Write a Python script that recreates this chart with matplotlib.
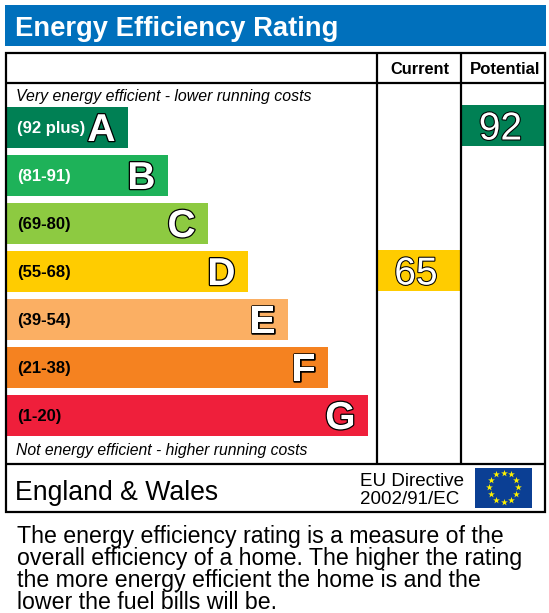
import matplotlib
matplotlib.use("Agg")
import matplotlib.pyplot as plt
import matplotlib.patheffects as pe
from matplotlib.patches import Rectangle
import numpy as np

bands = ["A", "B", "C", "D", "E", "F", "G"]
ranges = ["(92 plus)", "(81-91)", "(69-80)", "(55-68)", "(39-54)", "(21-38)", "(1-20)"]
band_ends = [128, 168, 208, 248, 288, 328, 368]
band_colors = ["#008054", "#1EB259", "#8DCA41", "#FFCC00", "#FBAF63", "#F58220", "#EF1F3B"]
current = 65
potential = 92
current_color = "#FFCC00"
potential_color = "#008054"
note = ["The energy efficiency rating is a measure of the",
        "overall efficiency of a home. The higher the rating",
        "the more energy efficient the home is and the",
        "lower the fuel bills will be."]

plt.rcParams["font.family"] = ["Liberation Sans", "DejaVu Sans"]

fig = plt.figure(figsize=(5.49, 6.13), dpi=100)
ax = fig.add_axes([0, 0, 1, 1])
ax.set_xlim(0, 549)
ax.set_ylim(613, 0)
ax.axis("off")

# banner
ax.add_patch(Rectangle((5, 5), 541, 41, fc="#0070BC", ec="none"))
ax.text(15, 26.5, "Energy Efficiency Rating", color="white", fontsize=19.75, fontweight="bold",
        va="center_baseline", ha="left")

# bars
outline = [pe.withStroke(linewidth=1.8, foreground="black")]
for i, b in enumerate(bands):
    top = 107 + i * 48
    ax.add_patch(Rectangle((7, top), band_ends[i] - 7, 41, fc=band_colors[i], ec="none"))
    col = "white" if i < 2 else "black"
    ax.text(17, top + 19.5, ranges[i], color=col, fontsize=12, fontweight="bold",
            va="center_baseline", ha="left")
    ax.text(band_ends[i] - 12.5, top + 20, b, color="white", fontsize=28, fontweight="bold",
            va="center_baseline", ha="right", path_effects=outline)


def band_index(v):
    # row the rating falls in
    lows = [92, 81, 69, 55, 39, 21, 1]
    return next(i for i, lo in enumerate(lows) if v >= lo)


thin = [pe.withStroke(linewidth=1.5, foreground="black")]
for v, c, x0, x1 in [(current, current_color, 378, 460), (potential, potential_color, 462, 545)]:
    i = band_index(v)
    top = 105 + i * 48 + (1 if i else 0)
    ax.add_patch(Rectangle((x0, top), x1 - x0, 41, fc=c, ec="none"))
    ax.text((x0 + x1) / 2 - 3, top + 20.5, str(v), color="white", fontsize=28,
            va="center_baseline", ha="center", path_effects=thin)

# frame
ax.add_patch(Rectangle((6, 53), 539, 459, fc="none", ec="black", lw=1.6))
ax.plot([6, 545], [83, 83], color="black", lw=1.6, solid_capstyle="butt")
ax.plot([6, 545], [464, 464], color="black", lw=1.6, solid_capstyle="butt")
ax.plot([377, 377], [53, 464], color="black", lw=1.6, solid_capstyle="butt")
ax.plot([461, 461], [53, 464], color="black", lw=1.6, solid_capstyle="butt")

ax.text(419.5, 68, "Current", fontsize=11.8, fontweight="bold", ha="center", va="center_baseline")
ax.text(505.5, 68, "Potential", fontsize=12.1, fontweight="bold", ha="center", va="center_baseline")
ax.text(16, 95.5, "Very energy efficient - lower running costs", fontsize=11.4, style="italic",
        ha="left", va="center_baseline")
ax.text(16, 449.5, "Not energy efficient - higher running costs", fontsize=11.35, style="italic",
        ha="left", va="center_baseline")

ax.text(15, 490, "England & Wales", fontsize=19.15, ha="left", va="center_baseline")
ax.text(360, 479, "EU Directive", fontsize=13.5, ha="left", va="center_baseline")
ax.text(360, 498, "2002/91/EC", fontsize=13.5, ha="left", va="center_baseline")

# flag
ax.add_patch(Rectangle((475, 468), 57, 40, fc="#0B3F94", ec="none"))
ang = np.deg2rad(np.arange(12) * 30)
ax.scatter(503.5 + 14.5 * np.sin(ang), 487 - 14.5 * np.cos(ang), marker="*", s=26, c="#FFF200", linewidths=0)

for i, line in enumerate(note):
    ax.text(17, 534 + i * 22, line, fontsize=16.7, ha="left", va="center_baseline", color="black")

fig.savefig("out.png", dpi=100)
